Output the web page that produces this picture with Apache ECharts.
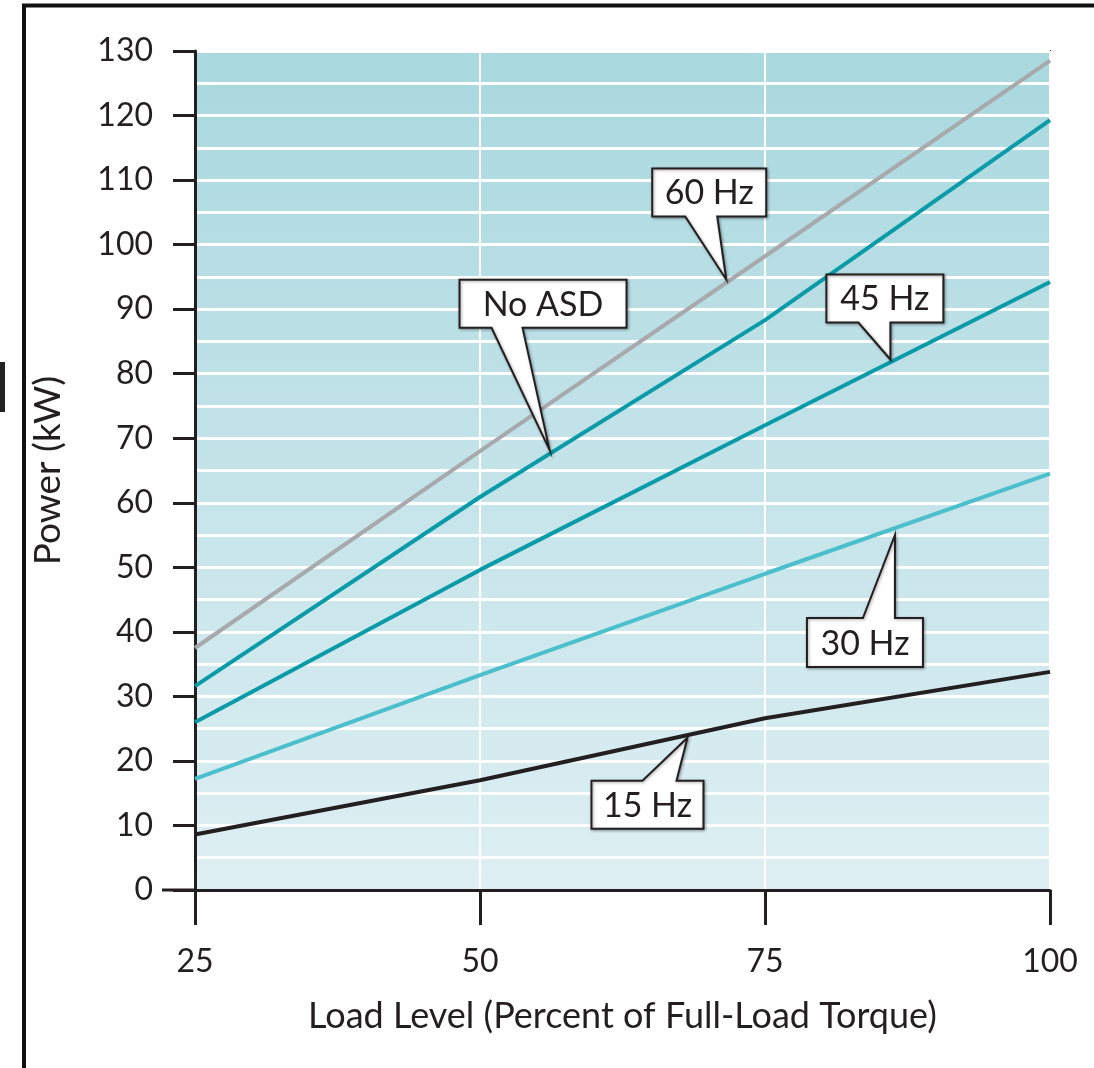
<!DOCTYPE html>
<html>
<head>
<meta charset="utf-8">
<script src="https://cdn.jsdelivr.net/npm/echarts@6/dist/echarts.min.js"></script>
<style>
  html, body { margin: 0; padding: 0; background: #ffffff; }
  #chart { width: 1094px; height: 1068px; }
</style>
</head>
<body>
<div id="chart"></div>
<script>
// ---- data ----
var loadLevels = [25, 50, 75, 100];
var hz60   = [37.5, 68.0, 98.2, 128.5];
var noAsd  = [31.6, 60.9, 88.3, 119.3];
var hz45   = [26.0, 49.6, 72.0, 94.2];
var hz30   = [17.2, 33.3, 49.0, 64.5];
var hz15   = [8.6, 17.0, 26.6, 33.8];
var xTicks = [25, 50, 75, 100];
var yTicks = [0, 10, 20, 30, 40, 50, 60, 70, 80, 90, 100, 110, 120, 130];

var calloutText = ['60 Hz', 'No ASD', '45 Hz', '30 Hz', '15 Hz'];
var calloutAnchor = [[71.6, 94.6], [56.1, 68.2], [86.0, 82.2], [86.4, 55.0], [68.2, 23.6]];

function pairs(ys) { return loadLevels.map(function (x, i) { return [x, ys[i]]; }); }

var TEXT = '#231f20';
var FONT = 'Lato, "Open Sans", sans-serif';

var chart = echarts.init(document.getElementById('chart'));

var option = {
  animation: false,
  backgroundColor: '#ffffff',
  grid: {
    left: 195, right: 44, top: 51, bottom: 178,
    show: true,
    borderColor: '#333333',
    borderWidth: 2,
    backgroundColor: new echarts.graphic.LinearGradient(0, 0, 0, 1, [
      { offset: 0, color: '#a9d8df' },
      { offset: 1, color: '#deeff3' }
    ])
  },
  xAxis: {
    type: 'value',
    min: 25, max: 100, interval: 25,
    name: 'Load Level (Percent of Full-Load Torque)',
    nameLocation: 'middle',
    nameGap: 108,
    nameTextStyle: { color: TEXT, fontSize: 36, fontFamily: FONT },
    axisLine: { show: true, onZero: false, lineStyle: { color: '#231f20', width: 3 } },
    axisTick: { show: true, length: 35, lineStyle: { color: '#231f20', width: 3 } },
    axisLabel: {
      color: TEXT, fontSize: 32, fontFamily: FONT, margin: 56,
      formatter: function (v) { return xTicks.indexOf(v) >= 0 ? String(v) : ''; }
    },
    splitLine: { show: true, lineStyle: { color: '#ffffff', width: 2 } }
  },
  yAxis: {
    type: 'value',
    min: 0, max: 130, interval: 10,
    name: 'Power (kW)',
    nameLocation: 'middle',
    nameRotate: 90,
    nameGap: 128,
    nameTextStyle: { color: TEXT, fontSize: 37, fontFamily: FONT },
    axisLine: { show: true, onZero: false, lineStyle: { color: '#231f20', width: 3 } },
    axisTick: { show: true, length: 22, lineStyle: { color: '#231f20', width: 3 } },
    axisLabel: {
      color: TEXT, fontSize: 32, fontFamily: FONT, margin: 42,
      formatter: function (v) { return yTicks.indexOf(v) >= 0 ? String(v) : ''; }
    },
    splitLine: { show: true, lineStyle: { color: '#ffffff', width: 3 } },
    minorTick: { show: false, splitNumber: 2 },
    minorSplitLine: { show: true, lineStyle: { color: '#ffffff', width: 3 } }
  },
  series: [
    { name: '60 Hz', type: 'line', data: pairs(hz60), symbol: 'none', lineStyle: { color: '#a7a9ac', width: 4 }, z: 3 },
    { name: 'No ASD', type: 'line', data: pairs(noAsd), symbol: 'none', lineStyle: { color: '#0a9aa8', width: 4 }, z: 3 },
    { name: '45 Hz', type: 'line', data: pairs(hz45), symbol: 'none', lineStyle: { color: '#0a9aa8', width: 4 }, z: 3 },
    { name: '30 Hz', type: 'line', data: pairs(hz30), symbol: 'none', lineStyle: { color: '#4bbfcb', width: 4 }, z: 3 },
    { name: '15 Hz', type: 'line', data: pairs(hz15), symbol: 'none', lineStyle: { color: '#231f20', width: 4 }, z: 3 }
  ]
};
chart.setOption(option);

// callout shapes relative to the tip: [left, top, right, bottom, baseLeft, baseRight, pointerOnTop]
var calloutGeom = [
  [-74, -111, 40, -63, -41, -9, false],
  [-90, -170, 77, -122, -58, -27, false],
  [-64, -85, 53, -37, -32, 0, false],
  [-88, 83, 28, 132, -32, 0, true],
  [-96, 43, 16, 91, -45, -11, true]
];

var graphics = [];
calloutText.forEach(function (t, i) {
  var tip = chart.convertToPixel({ gridIndex: 0 }, calloutAnchor[i]);
  var g = calloutGeom[i];
  var L = tip[0] + g[0], T = tip[1] + g[1], R = tip[0] + g[2], B = tip[1] + g[3];
  var bl = tip[0] + g[4], br = tip[0] + g[5];
  var pts;
  if (!g[6]) {
    pts = [[L, T], [R, T], [R, B], [br, B], [tip[0], tip[1]], [bl, B], [L, B]];
  } else {
    pts = [[L, T], [bl, T], [tip[0], tip[1]], [br, T], [R, T], [R, B], [L, B]];
  }
  graphics.push({
    type: 'polygon', z: 100,
    shape: { points: pts },
    style: { fill: '#ffffff', stroke: '#231f20', lineWidth: 2, lineJoin: 'miter',
             shadowBlur: 3, shadowColor: 'rgba(0,0,0,0.35)', shadowOffsetX: 1, shadowOffsetY: 1 }
  });
  graphics.push({
    type: 'text', z: 101,
    x: (L + R) / 2, y: (T + B) / 2 + 1,
    style: { text: t, fill: TEXT, font: '34px ' + FONT, align: 'center', verticalAlign: 'middle' }
  });
});

// extension of the zero line to the left of the y axis
var p0 = chart.convertToPixel({ gridIndex: 0 }, [25, 0]);
graphics.push({ type: 'line', z: 50, shape: { x1: p0[0] - 33, y1: p0[1], x2: p0[0], y2: p0[1] },
  style: { stroke: '#231f20', lineWidth: 3 } });

// page frame
graphics.push({ type: 'line', z: 50, shape: { x1: 22, y1: 5.5, x2: 1094, y2: 5.5 }, style: { stroke: '#111', lineWidth: 4 } });
graphics.push({ type: 'line', z: 50, shape: { x1: 24, y1: 4, x2: 24, y2: 1068 }, style: { stroke: '#111', lineWidth: 4 } });
graphics.push({ type: 'rect', z: 50, shape: { x: 0, y: 362, width: 5, height: 50 }, style: { fill: '#222' } });

chart.setOption({ graphic: graphics });
</script>
</body>
</html>
